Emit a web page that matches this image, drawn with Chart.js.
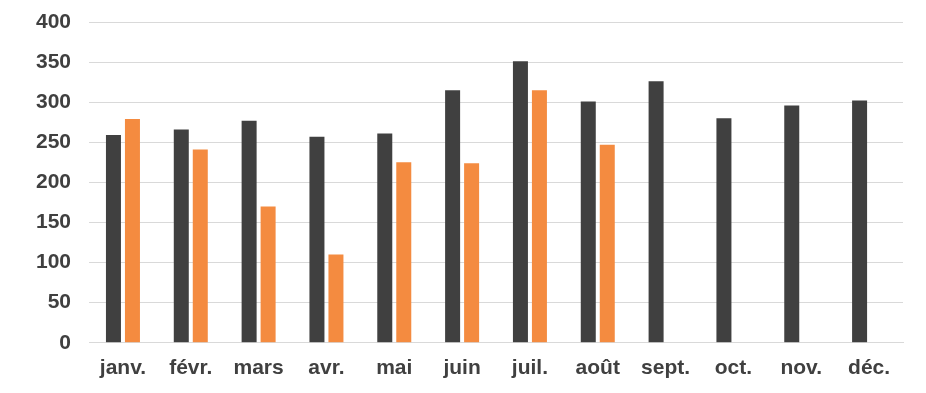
<!DOCTYPE html>
<html>
<head>
<meta charset="utf-8">
<script src="https://cdn.jsdelivr.net/npm/chart.js@4/dist/chart.umd.min.js"></script>
<style>
  html, body { margin: 0; padding: 0; background: #fff; }
  #wrap { width: 926px; height: 393px; }
</style>
</head>
<body>
<div id="wrap"><canvas id="chart"></canvas></div>
<script>
// données
const months = ['janv.', 'févr.', 'mars', 'avr.', 'mai', 'juin', 'juil.', 'août', 'sept.', 'oct.', 'nov.', 'déc.'];
const seriesDark = [259, 266, 277, 257, 261, 315, 351, 301, 326, 280, 296, 302];
const seriesOrange = [279, 241, 170, 110, 225, 224, 315, 247, null, null, null, null];
const yTicks = [0, 50, 100, 150, 200, 250, 300, 350, 400];

const labelFont = { family: 'Liberation Sans, Arial, sans-serif', size: 21, weight: 'bold' };
const textColor = '#404040';

new Chart(document.getElementById('chart'), {
  type: 'bar',
  data: {
    labels: months,
    datasets: [
      { data: seriesDark, backgroundColor: '#404040', barPercentage: 0.79, categoryPercentage: 0.56 },
      { data: seriesOrange, backgroundColor: '#F48B40', barPercentage: 0.79, categoryPercentage: 0.56 }
    ]
  },
  options: {
    responsive: true,
    maintainAspectRatio: false,
    animation: false,
    layout: { padding: { left: 18, right: 23, top: 0, bottom: 7 } },
    plugins: { legend: { display: false }, tooltip: { enabled: false } },
    scales: {
      x: {
        grid: { display: false },
        border: { display: true, color: '#d9d9d9' },
        ticks: { color: textColor, font: labelFont, padding: 5, maxRotation: 0 }
      },
      y: {
        min: 0,
        max: 400,
        afterBuildTicks: axis => { axis.ticks = yTicks.map(v => ({ value: v })); },
        // le haut du graphique est plus serré que ce que Chart.js réserve
        afterFit: axis => { axis.paddingTop = 22; },
        grid: { color: '#d9d9d9', drawTicks: false },
        border: { display: false },
        ticks: { color: textColor, font: labelFont, padding: 18 }
      }
    }
  }
});
</script>
</body>
</html>
